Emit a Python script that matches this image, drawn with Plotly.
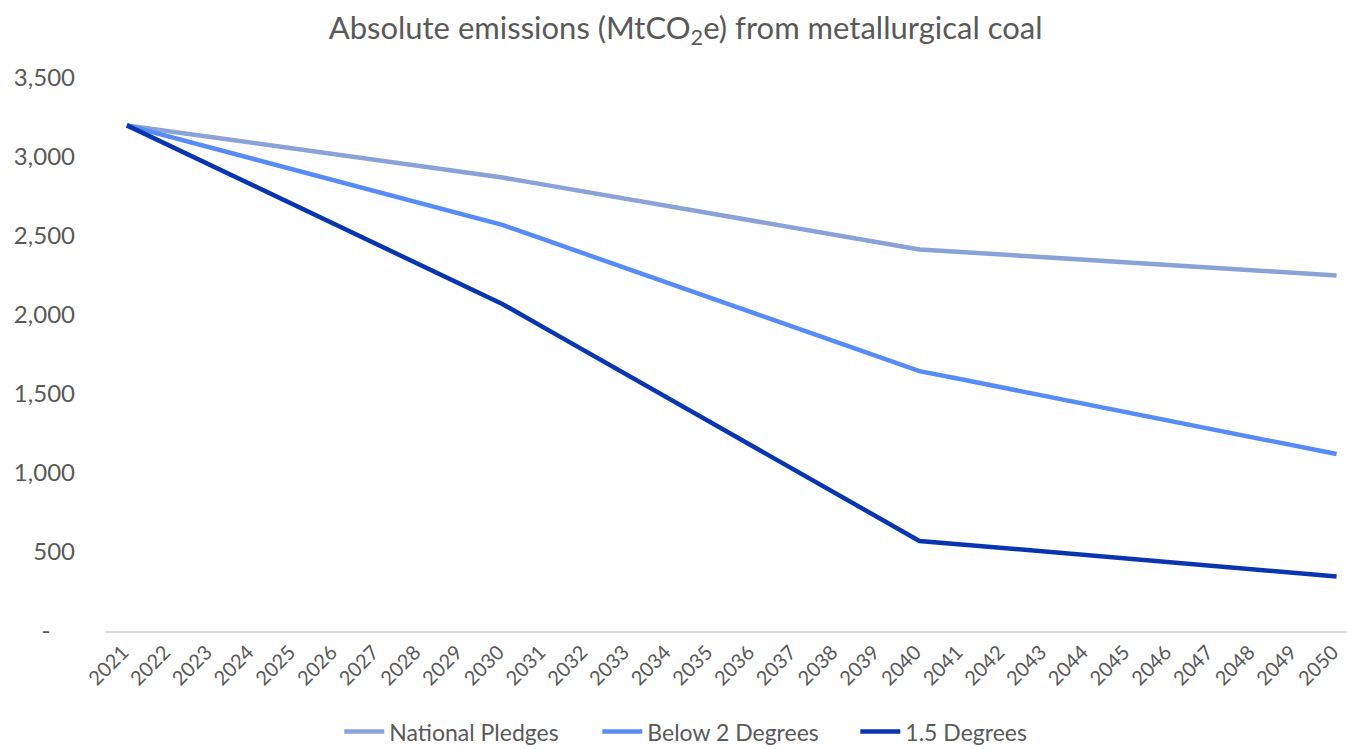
import plotly.graph_objects as go

years = [str(y) for y in range(2021, 2051)]

national_pledges = [3200, 3163, 3127, 3090, 3053, 3017, 2980, 2943, 2907, 2870,
                    2825, 2779, 2734, 2688, 2643, 2597, 2552, 2506, 2461, 2415,
                    2399, 2382, 2366, 2349, 2333, 2316, 2300, 2283, 2267, 2250]
below_2_degrees = [3200, 3130, 3060, 2990, 2920, 2850, 2780, 2710, 2640, 2570,
                   2478, 2385, 2293, 2200, 2108, 2015, 1923, 1830, 1738, 1645,
                   1593, 1540, 1488, 1435, 1383, 1330, 1278, 1225, 1173, 1120]
one_point_five = [3200, 3074, 2949, 2823, 2698, 2572, 2447, 2321, 2196, 2070,
                  1920, 1770, 1620, 1470, 1320, 1170, 1020, 870, 720, 570,
                  548, 525, 503, 480, 458, 435, 413, 390, 368, 345]

series_names = ["National Pledges", "Below 2 Degrees", "1.5 Degrees"]
series_colors = ["#8AA2D8", "#578BF7", "#0A35B0"]

y_tickvals = [0, 500, 1000, 1500, 2000, 2500, 3000, 3500]
y_ticktext = ["-\u00a0\u00a0\u00a0\u00a0", "500", "1,000", "1,500", "2,000", "2,500", "3,000", "3,500"]

fig = go.Figure()
for name, vals, col in zip(series_names, [national_pledges, below_2_degrees, one_point_five], series_colors):
    fig.add_trace(go.Scatter(x=years, y=vals, name=name, mode="lines",
                             line=dict(color=col, width=4.5)))

font_family = "Lato, 'Open Sans', sans-serif"
fig.update_layout(
    width=1347, height=749,
    paper_bgcolor="white", plot_bgcolor="white",
    margin=dict(l=106, r=0, t=78, b=118, autoexpand=False),
    title=dict(text="Absolute emissions (MtCO<sub>2</sub>e) from metallurgical coal",
               x=0.509, xanchor="center", y=0.963, yanchor="middle",
               font=dict(family=font_family, size=31, color="#595959")),
    font=dict(family=font_family, color="#595959"),
    showlegend=True,
    legend=dict(orientation="h", x=0.188, xanchor="left", y=-0.182, yanchor="middle",
                font=dict(size=23, color="#595959"), itemwidth=40, tracegroupgap=0,
                entrywidth=203, entrywidthmode="pixels"),
    xaxis=dict(type="category", range=[-0.5, 29.25], showgrid=False, showline=True,
               linecolor="#D9D9D9", linewidth=1.5, tickangle=-45, automargin=False,
               tickfont=dict(size=20, color="#595959"), ticks="", zeroline=False,
               ticklabelshift=-4),
    yaxis=dict(range=[0, 3500], tickvals=y_tickvals, ticktext=y_ticktext,
               showgrid=False, showline=False, zeroline=False, automargin=False,
               tickfont=dict(size=24, color="#595959"), ticklabelstandoff=30),
)

fig.write_html("out.html", config={"displayModeBar": False},
               post_script="document.body.style.margin='0';document.body.style.overflow='hidden';")
